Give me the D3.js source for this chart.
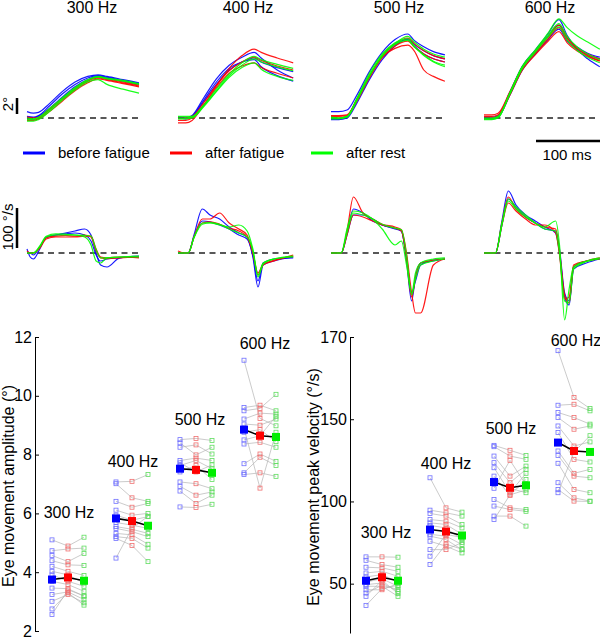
<!DOCTYPE html>
<html><head><meta charset="utf-8">
<script src="https://cdn.jsdelivr.net/npm/d3@7"></script>
<style>body{margin:0;background:#fff}svg{display:block;font-family:"Liberation Sans",Arial,sans-serif}</style>
</head><body>
<svg id="c" width="600" height="639"></svg>
<script>
// ---------- DATA ----------
const freqLabels = ["300 Hz", "400 Hz", "500 Hz", "600 Hz"];
const conditionLabels = ["before fatigue", "after fatigue", "after rest"];
const traceColors = ["#0000ff", "#ff0000", "#00ff00"];

// Eye position traces (deg) vs time (ms)
const posTimes300 = [0, 10, 18, 35, 55, 75, 95, 111, 125, 150, 175];
const posBefore300 = [[0.8,0.6,0.7,1.8,3.3,4.5,5.2,5.4,5.2,4.8,4.4],[0.2,0.1,0.3,1.5,3.0,4.2,5.0,5.3,5.1,4.7,4.3],[0.0,0.0,0.2,1.2,2.6,3.9,4.8,5.2,5.0,4.6,4.2]];
const posAfter300 = [[-0.3,-0.3,-0.1,0.8,2.1,3.4,4.4,4.9,4.7,4.3,3.9],[-0.2,-0.2,0.0,1.0,2.3,3.6,4.6,5.0,4.8,4.4,4.0],[0.1,0.0,0.1,1.1,2.4,3.7,4.7,5.1,4.9,4.5,4.1]];
const posRest300 = [[-0.4,-0.4,-0.2,0.8,2.2,3.5,4.5,4.8,4.2,3.6,3.1],[-0.2,-0.2,0.0,1.0,2.4,3.7,4.7,5.1,4.9,4.6,4.2],[0.0,-0.1,0.1,1.2,2.5,3.8,4.8,5.2,5.0,4.7,4.3]];

const posTimes400 = [0, 12, 22, 40, 60, 80, 100, 119, 130, 155, 180];
const posBefore400 = [[0.0,0.0,0.3,2.5,4.9,6.6,7.6,8.2,7.5,6.0,5.0],[0.0,-0.1,0.2,2.2,4.5,6.2,7.0,7.3,6.4,5.3,4.6],[0.1,0.0,0.2,2.0,4.2,6.0,7.0,7.5,7.0,6.3,5.8]];
const posAfter400 = [[-0.6,-0.6,-0.3,1.6,4.0,6.2,7.8,8.6,8.2,7.5,6.9],[-0.3,-0.3,0.0,1.6,3.8,5.6,6.5,6.9,6.3,5.6,5.0],[0.0,0.0,0.2,1.9,4.1,5.9,7.0,7.6,7.2,6.5,6.0]];
const posRest400 = [[0.2,0.2,0.2,1.6,3.6,5.5,6.9,7.7,7.3,6.7,6.2],[0.0,0.0,0.1,1.5,3.4,5.3,6.6,7.4,7.0,6.4,5.9],[-0.1,-0.1,0.0,1.4,3.3,5.1,6.3,6.9,6.1,5.2,4.7]];

const posTimes500 = [0, 12, 25, 40, 60, 80, 100, 120, 130, 145, 160, 178];
const posBefore500 = [[0.8,0.8,1.0,2.8,5.8,8.2,9.8,10.5,9.7,8.9,8.3,7.9],[0.0,-0.1,0.2,2.2,5.2,7.7,9.2,9.8,9.0,8.0,7.4,7.0],[-0.2,-0.2,0.0,1.8,4.8,7.3,9.0,9.9,9.2,8.4,7.8,7.4]];
const posAfter500 = [[0.3,0.3,0.4,2.3,5.3,7.6,8.7,9.1,8.4,6.0,5.2,4.6],[0.2,0.2,0.3,2.2,5.2,7.8,9.3,10.0,9.3,8.4,7.8,7.4],[0.1,0.0,0.2,2.0,5.0,7.5,9.0,9.6,8.9,8.0,7.4,7.0]];
const posRest500 = [[0.0,0.0,0.2,2.4,5.6,8.0,9.4,9.9,9.0,7.8,7.0,6.4],[-0.1,-0.1,0.1,2.1,5.2,7.7,9.2,9.7,8.9,7.9,7.1,6.6],[0.1,0.0,0.2,2.2,5.3,7.8,9.3,10.2,9.5,8.6,8.0,7.6]];

const posTimes600 = [0, 12, 22, 40, 60, 80, 100, 117, 130, 145, 162, 181];
const posBefore600 = [[0.1,0.1,0.3,3.2,6.5,8.5,10.5,12.3,10.3,8.6,7.4,6.4],[0.0,0.0,0.2,3.0,6.3,8.3,10.2,11.6,10.0,8.9,8.1,7.6],[-0.1,-0.1,0.1,2.8,6.0,8.0,9.8,11.1,9.6,8.6,7.9,7.4]];
const posAfter600 = [[0.4,0.4,0.6,3.2,6.4,8.3,10.1,11.6,10.0,8.8,8.0,7.4],[0.2,0.2,0.4,3.0,6.2,8.1,9.9,11.3,9.8,8.7,7.8,7.2],[0.0,0.0,0.2,2.8,6.0,7.9,9.6,10.8,9.4,8.4,7.7,7.1]];
const posRest600 = [[-0.2,-0.2,0.0,3.1,6.5,8.5,10.6,12.4,11.3,10.3,9.5,8.6],[-0.1,-0.1,0.1,2.9,6.2,8.2,10.1,11.4,9.7,8.5,7.6,6.9],[0.0,0.0,0.2,3.0,6.4,8.4,10.3,11.8,10.2,8.9,8.0,7.3]];

// Eye velocity traces (deg/s) vs time (ms)
const velTimes300 = [0, 5, 10, 20, 30, 45, 60, 75, 90, 100, 108, 115, 125, 145, 175];
const velBefore300 = [[10,-10,-15,10,40,45,50,55,60,45,0,-30,-35,-12,-8],[0,0,-5,15,38,45,48,50,45,30,-5,-20,-15,-12,-10]];
const velAfter300 = [[0,0,0,15,38,42,44,42,45,40,5,-12,-14,-12,-10],[5,0,0,12,35,40,40,40,42,42,10,-10,-12,-10,-12]];
const velRest300 = [[0,0,0,18,42,48,47,45,40,20,-20,-25,-12,-10,-10],[0,0,0,15,40,45,45,45,44,42,8,-12,-12,-10,-8]];

const velTimes400 = [0, 10, 16, 25, 38, 50, 65, 80, 95, 108, 117, 125, 133, 150, 180];
const velBefore400 = [[0,0,0,45,110,95,85,65,50,40,-10,-85,-30,-20,-10],[0,0,0,40,80,78,70,60,45,35,-5,-70,-25,-15,-12]];
const velAfter400 = [[5,0,0,40,85,85,100,75,60,45,0,-55,-30,-20,-5],[0,0,0,40,75,78,72,62,55,40,0,-50,-28,-18,-8]];
const velRest400 = [[0,0,0,38,72,75,70,65,70,55,10,-55,-25,-15,-10],[0,0,0,40,75,76,72,60,50,40,5,-60,-28,-15,-8]];

const velTimes500 = [0, 10, 16, 25, 35, 50, 65, 80, 100, 110, 118, 126, 132, 140, 160, 178];
const velBefore500 = [[0,0,0,50,110,100,80,70,60,55,-20,-120,-60,-25,-20,-15],[0,0,0,45,95,95,85,70,62,55,-10,-100,-70,-30,-18,-15]];
const velAfter500 = [[0,0,0,55,140,100,85,72,65,58,0,-100,-150,-150,-30,-15],[0,0,0,45,95,90,80,70,62,55,-15,-110,-60,-25,-18,-15]];
const velRest500 = [[0,0,0,60,105,100,85,60,20,30,-30,-100,-50,-25,-15,-12],[0,0,0,50,100,95,85,72,62,58,-5,-105,-65,-30,-20,-15]];

const velTimes600 = [0, 10, 18, 28, 38, 50, 65, 80, 95, 112, 118, 126, 133, 140, 160, 181];
const velBefore600 = [[0,0,0,80,155,120,95,80,65,50,0,-110,-130,-40,-25,-15],[0,0,0,70,135,115,90,75,60,55,10,-100,-120,-35,-20,-15]];
const velAfter600 = [[0,0,0,75,140,110,90,75,65,60,5,-105,-125,-35,-20,-12],[0,0,0,70,125,105,85,70,70,50,-5,-115,-110,-30,-20,-15]];
const velRest600 = [[0,0,0,75,135,115,95,75,65,80,20,-167,-90,-35,-20,-12],[0,0,0,70,130,110,90,75,60,55,0,-120,-125,-40,-22,-15]];

// Per-subject amplitude (deg): [before, after fatigue, after rest]
const amp300 = [[5.10,4.89,5.19],[4.73,4.79,4.82],[4.57,4.36,4.64],[4.39,4.25,4.23],[4.20,4.03,3.89],[4.03,3.91,3.63],[3.91,3.69,3.52],[3.69,3.58,3.35],[3.46,3.44,3.18],[3.24,3.33,3.07],[3.01,3.24,2.96],[2.75,3.30,2.88],[2.56,3.40,3.20]];
const amp400 = [[7.07,7.09,7.32],[7.01,6.53,6.41],[6.41,6.21,6.34],[6.11,5.94,6.00],[5.94,5.77,5.89],[5.69,5.60,5.49],[5.55,5.46,5.32],[5.49,5.38,5.21],[5.32,5.27,4.95],[5.21,5.15,4.82],[5.15,4.91,4.36],[4.48,5.50,5.90]];
const amp500 = [[8.51,8.55,8.48],[8.40,7.99,8.25],[8.25,8.33,8.02],[7.80,7.88,7.80],[7.72,7.41,7.65],[7.63,7.80,7.52],[7.41,7.63,7.15],[7.07,7.01,6.84],[6.92,6.62,6.73],[6.76,6.34,6.62],[6.22,6.20,6.31]];
const amp600 = [[11.21,9.23,8.98],[9.60,9.68,9.49],[9.49,9.57,10.05],[9.21,9.41,9.38],[9.04,9.00,9.21],[8.76,8.85,8.44],[8.36,8.42,8.25],[7.69,8.02,7.77],[7.38,7.91,7.63],[7.32,7.38,7.26],[8.90,6.86,8.76],[8.50,8.64,9.30]];
const ampMeans = [[3.75,3.82,3.71],[5.83,5.74,5.58],[7.52,7.48,7.38],[8.85,8.64,8.60]];

// Per-subject peak velocity (deg/s)
const vel300 = [[66.3,66.3,66.1],[64.2,61.6,60.0],[60.0,59.6,57.5],[56.5,57.5,54.5],[54.1,55.5,51.0],[51.0,53.0,48.4],[49.4,50.4,45.3],[48.4,48.4,42.3],[46.3,46.3,50.0],[44.3,49.0,46.5],[42.3,52.0,44.0],[36.8,47.0,49.0]];
const vel400 = [[114.4,96.1,93.5],[94.7,93.1,91.1],[92.7,91.1,86.0],[89.0,88.0,83.9],[87.0,86.0,80.0],[85.4,83.9,76.8],[80.0,78.9,73.8],[78.9,76.8,70.7],[75.8,72.8,68.7],[70.7,70.7,75.0],[66.7,80.0,78.0],[61.6,74.0,71.0]];
const vel500 = [[134.1,131.1,128.0],[133.3,127.6,125.6],[127.6,115.4,121.5],[123.6,111.4,119.5],[120.5,105.3,117.1],[115.4,103.7,113.4],[112.0,108.0,105.3],[101.2,96.1,95.1],[97.2,95.1,94.0],[91.1,91.1,85.0],[89.0,104.0,107.0],[108.0,125.0,110.0]];
const vel600 = [[191.7,163.2,156.5],[158.5,159.1,155.1],[154.1,151.0,147.0],[151.0,143.9,145.9],[145.9,133.7,136.2],[141.9,125.6,124.0],[130.7,117.1,119.5],[128.0,115.4,114.4],[123.2,107.3,105.3],[111.4,102.2,100.2],[107.3,100.2,100.0],[105.3,130.0,140.0]];
const velMeans = [[51.8,53.9,51.8],[82.9,81.7,79.3],[111.8,108.3,109.8],[135.8,130.7,130.1]];

const ampTicks = [2, 4, 6, 8, 10, 12];
const velTickValues = [50, 100, 150, 200];
const velTickLabels = ["50", "100", "150", "170"];

// ---------- DRAW ----------
const svg = d3.select("#c");
const FONT = 16;
const panelX0 = [27, 178, 331, 484];
const titleX = [92, 248, 399, 550];

const posSets = [
  [posTimes300, [posBefore300, posAfter300, posRest300]],
  [posTimes400, [posBefore400, posAfter400, posRest400]],
  [posTimes500, [posBefore500, posAfter500, posRest500]],
  [posTimes600, [posBefore600, posAfter600, posRest600]]
];
const velSets = [
  [velTimes300, [velBefore300, velAfter300, velRest300]],
  [velTimes400, [velBefore400, velAfter400, velRest400]],
  [velTimes500, [velBefore500, velAfter500, velRest500]],
  [velTimes600, [velBefore600, velAfter600, velRest600]]
];

const yPos = d3.scaleLinear().domain([0, 10]).range([118, 38]);
const yVelT = d3.scaleLinear().domain([0, 100]).range([253, 213]);

freqLabels.forEach((lab, i) => {
  svg.append("text").attr("x", titleX[i]).attr("y", 13).attr("text-anchor", "middle")
    .attr("font-size", FONT).text(lab);
  const xs = d3.scaleLinear().domain([0, 180]).range([panelX0[i], panelX0[i] + 115.2]);
  [yPos, yVelT].forEach(ys => {
    svg.append("line").attr("x1", xs(0)).attr("x2", xs(180)).attr("y1", ys(0)).attr("y2", ys(0))
      .attr("stroke", "#222").attr("stroke-width", 1.3).attr("stroke-dasharray", "6,4.5");
  });
  const drawSet = (set, ys) => {
    const times = set[0];
    const line = d3.line().x((d, k) => xs(times[k])).y(d => ys(d)).curve(d3.curveMonotoneX);
    set[1].forEach((traces, c) => {
      traces.forEach(tr => {
        svg.append("path").attr("d", line(tr)).attr("fill", "none")
          .attr("stroke", traceColors[c]).attr("stroke-width", 1.2).attr("stroke-opacity", 0.9);
      });
    });
  };
  drawSet(posSets[i], yPos);
  drawSet(velSets[i], yVelT);
});

// scale bars
svg.append("line").attr("x1", 17).attr("x2", 17).attr("y1", 98).attr("y2", 98 + (yPos(0) - yPos(2)))
  .attr("stroke", "#000").attr("stroke-width", 2.5);
svg.append("text").attr("transform", "translate(13,104) rotate(-90)").attr("text-anchor", "middle")
  .attr("font-size", 15).text("2°");
svg.append("line").attr("x1", 17).attr("x2", 17).attr("y1", 208).attr("y2", 208 + (yVelT(0) - yVelT(100)))
  .attr("stroke", "#000").attr("stroke-width", 2.5);
svg.append("text").attr("transform", "translate(13,227) rotate(-90)").attr("text-anchor", "middle")
  .attr("font-size", 15).text("100 °/s");
const xsBar = d3.scaleLinear().domain([0, 100]).range([536, 536 + 64]);
svg.append("line").attr("x1", xsBar(0)).attr("x2", xsBar(100)).attr("y1", 141).attr("y2", 141)
  .attr("stroke", "#000").attr("stroke-width", 2.5);
svg.append("text").attr("x", 567).attr("y", 160).attr("text-anchor", "middle").attr("font-size", 15).text("100 ms");

// legend
const legX = [23, 170, 311];
conditionLabels.forEach((lab, c) => {
  svg.append("line").attr("x1", legX[c]).attr("x2", legX[c] + 22).attr("y1", 153).attr("y2", 153)
    .attr("stroke", traceColors[c]).attr("stroke-width", 3);
  svg.append("text").attr("x", legX[c] + 35).attr("y", 158).attr("font-size", 15).text(lab);
});

// ---------- bottom scatter panels ----------
const markerLight = ["#7070ff", "#f07070", "#60dd60"];
const meanColors = ["#0000ff", "#ff0000", "#00ee00"];

function scatterPanel(opts) {
  const { axisX, xRange, y, groups, means, ticks, tickLabels, label, labelX, titlePos } = opts;
  const x = d3.scaleLinear().domain([0, 14]).range(xRange);
  const ax = d3.axisLeft(y).tickValues(ticks).tickSizeInner(-4).tickSizeOuter(0).tickPadding(3)
    .tickFormat((d, i) => tickLabels ? tickLabels[i] : d);
  const g = svg.append("g").attr("transform", `translate(${axisX},0)`).call(ax);
  g.selectAll("text").attr("font-size", FONT).attr("font-family", '"Liberation Sans",Arial,sans-serif').attr("fill", "#000");
  g.selectAll("line,path").attr("stroke", "#000");
  svg.append("text").attr("transform", `translate(${labelX},${(y.range()[0] + y.range()[1]) / 2 + 2}) rotate(-90)`)
    .attr("text-anchor", "middle").attr("font-size", FONT).text(label);

  groups.forEach((subj, gi) => {
    const xi = c => x(gi * 4 + c);
    const ln = d3.line().x((d, c) => xi(c)).y(d => y(d));
    subj.forEach(s => {
      svg.append("path").attr("d", ln(s)).attr("fill", "none").attr("stroke", "#b4b4b4").attr("stroke-width", 0.7);
    });
    subj.forEach(s => {
      s.forEach((v, c) => {
        svg.append("rect").attr("x", xi(c) - 2).attr("y", y(v) - 2).attr("width", 4).attr("height", 4)
          .attr("fill", "none").attr("stroke", markerLight[c]).attr("stroke-width", 0.8);
      });
    });
    const m = means[gi];
    svg.append("path").attr("d", ln(m)).attr("fill", "none").attr("stroke", "#000").attr("stroke-width", 1.6);
    m.forEach((v, c) => {
      svg.append("rect").attr("x", xi(c) - 4).attr("y", y(v) - 4).attr("width", 8).attr("height", 8)
        .attr("fill", meanColors[c]);
    });
    svg.append("text").attr("x", titlePos[gi][0]).attr("y", titlePos[gi][1]).attr("text-anchor", "middle")
      .attr("font-size", FONT).text(freqLabels[gi]);
  });
}

const yAmp = d3.scaleLinear().domain([2, 12]).range([631, 337]);
scatterPanel({
  axisX: 35, xRange: [52, 276], y: yAmp, groups: [amp300, amp400, amp500, amp600], means: ampMeans,
  ticks: ampTicks, tickLabels: null, label: "Eye movement amplitude (°)", labelX: 14,
  titlePos: [[69, 518], [133, 467], [200, 425], [265, 349]]
});
const yVel = d3.scaleLinear().domain([20, 200]).range([633, 337]);
scatterPanel({
  axisX: 350, xRange: [366, 590], y: yVel, groups: [vel300, vel400, vel500, vel600], means: velMeans,
  ticks: velTickValues, tickLabels: velTickLabels, label: "Eye movement peak velocity (°/s)", labelX: 319,
  titlePos: [[386, 538], [446, 469], [511, 434], [576, 346]]
});
</script>
</body></html>
